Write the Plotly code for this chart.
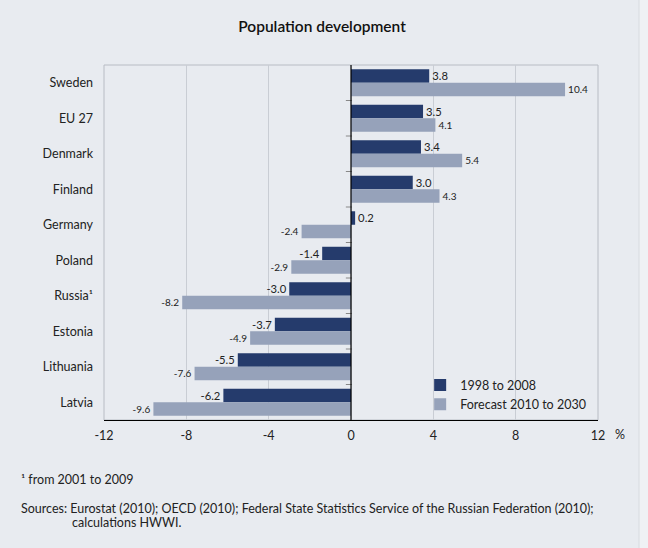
import plotly.graph_objects as go

countries = ["Sweden", "EU 27", "Denmark", "Finland", "Germany", "Poland",
             "Russia¹", "Estonia", "Lithuania", "Latvia"]
past = [3.8, 3.5, 3.4, 3.0, 0.2, -1.4, -3.0, -3.7, -5.5, -6.2]
forecast = [10.4, 4.1, 5.4, 4.3, -2.4, -2.9, -8.2, -4.9, -7.6, -9.6]
x_ticks = [-12, -8, -4, 0, 4, 8, 12]

BG = "#e8ebf0"
DARK = "#253b6c"
LIGHT = "#96a2ba"
FONT = "Lato"

fig = go.Figure()
fig.add_trace(go.Bar(
    y=countries, x=past, orientation="h", name="1998 to 2008",
    marker=dict(color=DARK, line=dict(width=0)),
    text=[f"{v:.1f}" for v in past], textposition="outside",
    textfont=dict(size=12.5, color="#222", family=FONT), cliponaxis=False,
))
fig.add_trace(go.Bar(
    y=countries, x=forecast, orientation="h", name="Forecast 2010 to 2030",
    marker=dict(color=LIGHT, line=dict(width=0)),
    text=[f"{v:.1f}" for v in forecast], textposition="outside",
    textfont=dict(size=10, color="#222", family=FONT), cliponaxis=False,
))

shapes = [
    dict(type="rect", xref="paper", yref="paper", x0=1.083, x1=1.2, y0=-1, y1=2,
         fillcolor="#eff1f4", line=dict(color="#d8dbe0", width=1), layer="below"),
    dict(type="rect", xref="paper", yref="paper", x0=0, x1=1, y0=0, y1=1,
         line=dict(color="#b8bcc4", width=1), layer="below"),
]
for i in range(len(countries) - 1):
    shapes.append(dict(type="line", xref="x", yref="y", x0=-0.25, x1=0.05,
                       y0=i + 0.5, y1=i + 0.5, line=dict(color="#888", width=1)))
shapes.append(dict(type="line", xref="x", yref="paper", x0=0, x1=0, y0=0, y1=1,
                   line=dict(color="black", width=1.2)))
fig.update_layout(
    width=648, height=548,
    paper_bgcolor=BG, plot_bgcolor=BG,
    margin=dict(l=104, r=50, t=65, b=128),
    barmode="group", bargap=0.24, bargroupgap=0,
    font=dict(family=FONT, size=12, color="#222"),
    title=dict(text="Population development", x=0.497, xanchor="center",
               y=0.951, yanchor="middle",
               font=dict(family=FONT, size=15.5, color="#111", weight=600)),
    xaxis=dict(range=[-12, 12], tickvals=x_ticks, ticktext=[str(t) for t in x_ticks],
               showgrid=True, gridcolor="#c9cdd4", gridwidth=1, zeroline=False,
               showline=True, linecolor="black", linewidth=1.2, ticks="",
               ticklabelstandoff=4, tickfont=dict(size=12.5), fixedrange=True),
    yaxis=dict(autorange="reversed", showgrid=False, zeroline=False, ticks="",
               ticklabelstandoff=10, tickfont=dict(size=12.5), showline=False),
    legend=dict(x=0.64, y=0.14, xanchor="left", yanchor="top",
                bgcolor="rgba(0,0,0,0)", font=dict(size=12.5),
                itemwidth=30, tracegroupgap=0),
    showlegend=True,
    shapes=shapes,
    annotations=[
        dict(text="%", xref="paper", yref="paper", x=1.03, y=-0.042,
             yanchor="middle", xanchor="left", showarrow=False, font=dict(size=12.5)),
        dict(text="¹ from 2001 to 2009", xref="paper", yref="paper",
             x=-0.172, y=-0.169, xanchor="left", yanchor="middle",
             showarrow=False, font=dict(size=12.5)),
        dict(text="Sources: Eurostat (2010); OECD (2010); Federal State Statistics Service of the Russian Federation (2010);",
             xref="paper", yref="paper", x=-0.172, y=-0.248, xanchor="left",
             yanchor="middle", showarrow=False, font=dict(size=12.5)),
        dict(text="calculations HWWI.", xref="paper", yref="paper",
             x=-0.069, y=-0.290, xanchor="left", yanchor="middle",
             showarrow=False, font=dict(size=12.5)),
    ],
)
fig.write_html("out.html")
